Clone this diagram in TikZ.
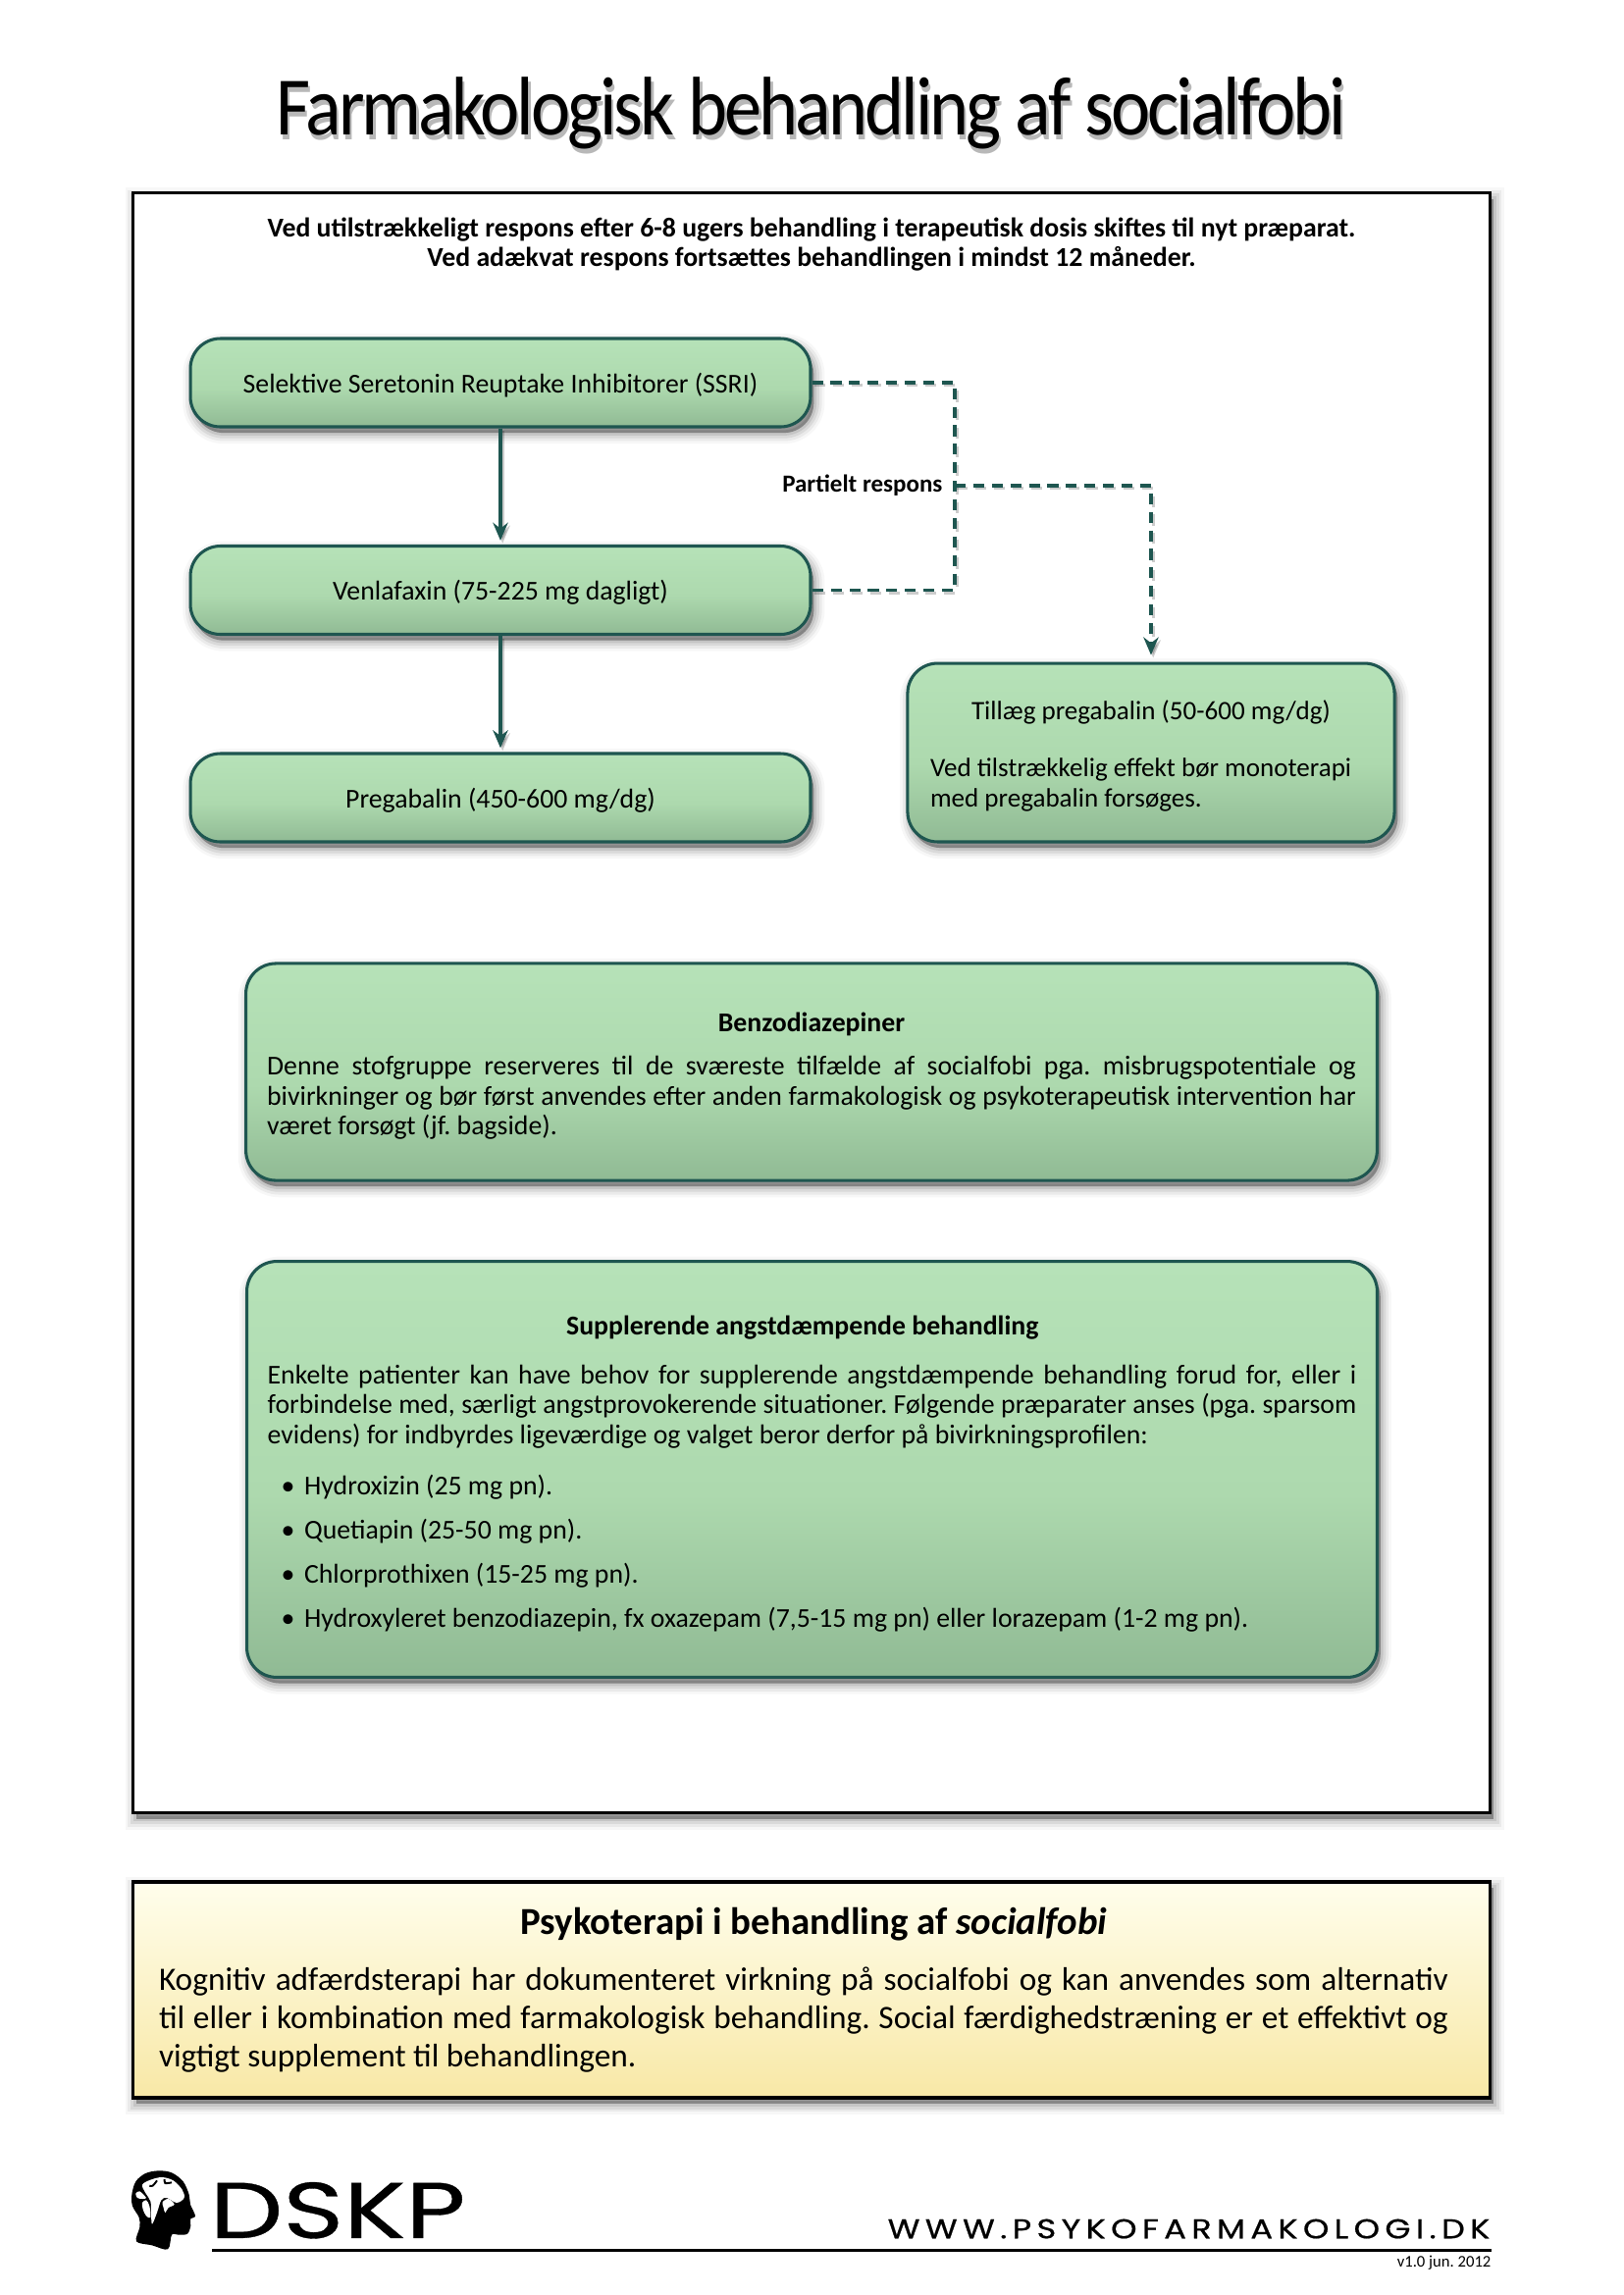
\documentclass[tikz,border=0pt]{standalone}
\usepackage{fontspec}
\usepackage{xcolor}
\usetikzlibrary{arrows.meta}
\usetikzlibrary{shadows}
\setmainfont{Carlito}
\newfontfamily\titlefont[FakeStretch=.9,LetterSpace=-3.5]{Carlito}
\newfontfamily\logofont[FakeBold=0.4]{Poppins}
\newfontfamily\urlfont[LetterSpace=16,FakeBold=0.6]{Poppins}
\setlength{\parindent}{0pt}
\frenchspacing
\definecolor{edgegreen}{HTML}{1E5650}
\definecolor{greentop}{HTML}{B6E2B8}
\definecolor{greenmid}{HTML}{ADD9AE}
\definecolor{greenbot}{HTML}{90BA94}
\definecolor{yellowtop}{HTML}{FFFEEC}
\definecolor{yellowbot}{HTML}{F8E8A6}
\pgfdeclareverticalshading{greenfade}{100bp}{color(0bp)=(greenbot); color(25bp)=(greenbot); color(47bp)=(greenmid); color(75bp)=(greentop); color(100bp)=(greentop)}
\newcommand{\titletext}{Farmakologisk behandling af socialfobi}
\newcommand{\boxfont}{\fontsize{10}{11}\selectfont}
\newcommand{\addonfont}{\fontsize{9.75}{10.9}\selectfont}
\newcommand{\psykofont}{\fontsize{12}{14}\selectfont}
\newcommand{\psykohead}{\bfseries\fontsize{14}{14}\selectfont}
\newcommand{\textblock}[2]{\vbox{\hsize=#1\relax #2}}
\newcommand{\fitline}[1]{\hbox to \hsize{#1}}
\newcommand{\restline}[1]{\hbox to \hsize{#1\hfil}}
\newcommand{\midline}[1]{\hbox to \hsize{\hfil#1\hfil}}
\newcommand{\dotline}[1]{\hbox to \hsize{\hspace*{5pt}\textbullet\hspace{3.5pt}#1\hfil}}
\tikzset{
    softshadow/.style={
        general shadow={shadow xshift=1.2pt,shadow yshift=-2.2pt,fill=black,draw=black,line width=8pt,opacity=.03},
        general shadow={shadow xshift=1.2pt,shadow yshift=-2.2pt,fill=black,draw=black,line width=6pt,opacity=.05},
        general shadow={shadow xshift=1.2pt,shadow yshift=-2.2pt,fill=black,draw=black,line width=4pt,opacity=.07},
        general shadow={shadow xshift=1.2pt,shadow yshift=-2.2pt,fill=black,draw=black,line width=2pt,opacity=.09},
        general shadow={shadow xshift=1.2pt,shadow yshift=-2.2pt,fill=black,opacity=.12}},
    greenbox/.style={draw=edgegreen,line width=1.1pt,rounded corners=11pt,shading=greenfade,softshadow,inner sep=0pt,font=\boxfont},
    drugbox/.style={greenbox,minimum width=227.5pt,minimum height=32.4pt,text height=9.6pt,text depth=2.4pt},
    arrowline/.style={draw=edgegreen,line width=1.15pt,-{Stealth[length=6.5pt,width=5.5pt]},shorten >=1.5pt},
    dashline/.style={draw=edgegreen,line width=1.15pt,dash pattern=on 4pt off 2.8pt},
    lineshadow/.style={general shadow={shadow xshift=.8pt,shadow yshift=-1pt,draw=black,fill=none,line width=1pt,dash pattern=on 4pt off 2.8pt,opacity=.2}},
    solidshadow/.style={general shadow={shadow xshift=.8pt,shadow yshift=-1pt,draw=black,fill=none,line width=1pt,opacity=.2}}
}

\begin{document}
\begin{tikzpicture}[x=.36pt,y=-.36pt]
            \useasboundingbox (0,0) rectangle (1654,2339);

            \node (title) at (827,118) {\titlefont\fontsize{30.5}{36}\selectfont\rlap{\raisebox{-1.8pt}{\hspace{.8pt}\textcolor{black!28}{\titletext}}}\titletext};

            \node[draw=black,line width=1.1pt,fill=white,softshadow,minimum width=498pt,minimum height=594.4pt] (frame) at (827,1022) {};
            \node[align=center,font=\fontsize{10}{10.8}\selectfont\bfseries] (intro) at (827,249) {Ved utilstrækkeligt respons efter 6-8 ugers behandling i terapeutisk dosis skiftes til nyt præparat.\\Ved adækvat respons fortsættes behandlingen i mindst 12 måneder.};

            \node[drugbox] (ssri) at (510,390) {Selektive Seretonin Reuptake Inhibitorer (SSRI)};
            \node[drugbox] (venla) at (510,601.5) {Venlafaxin (75-225 mg dagligt)};
            \node[drugbox] (prega) at (510,813) {Pregabalin (450-600 mg/dg)};

            \node[greenbox,minimum width=178.6pt,minimum height=65.5pt,font=\addonfont] (tillaeg) at (1173,767) {\textblock{162pt}{\vspace*{2.5pt}\midline{Tillæg pregabalin (50-600 mg/dg)}\vspace{10pt}\restline{Ved tilstrækkelig effekt bør monoterapi}\restline{med pregabalin forsøges.}}};

            \node[greenbox,minimum width=415pt,minimum height=79.6pt] (benzo) at (827,1092.5) {\textblock{399.5pt}{\vspace*{2.9pt}\midline{\bfseries Benzodiazepiner}\vspace{5pt}\fitline{Denne stofgruppe reserveres til de sværeste tilfælde af socialfobi pga. misbrugspotentiale og}\fitline{bivirkninger og bør først anvendes efter anden farmakologisk og psykoterapeutisk intervention har}\restline{været forsøgt (jf. bagside).}}};

            \node[greenbox,minimum width=414.7pt,minimum height=152.6pt] (suppl) at (827.5,1497.5) {\textblock{399.5pt}{\vspace*{3.5pt}\midline{\bfseries Supplerende angstdæmpende behandling\hspace*{7pt}}\vspace{6.7pt}\fitline{Enkelte patienter kan have behov for supplerende angstdæmpende behandling forud for, eller i}\fitline{forbindelse med, særligt angstprovokerende situationer. Følgende præparater anses (pga. sparsom}\restline{evidens) for indbyrdes ligeværdige og valget beror derfor på bivirkningsprofilen:}\vspace{7.8pt}\dotline{Hydroxizin (25 mg pn).}\vspace{5.2pt}\dotline{Quetiapin (25-50 mg pn).}\vspace{5.2pt}\dotline{Chlorprothixen (15-25 mg pn).}\vspace{5.2pt}\dotline{Hydroxyleret benzodiazepin, fx oxazepam (7,5-15 mg pn) eller lorazepam (1-2 mg pn).}}};

            \node[draw=black,line width=1.1pt,top color=yellowtop,bottom color=yellowbot,softshadow,minimum width=498pt,minimum height=79.2pt,inner sep=0pt,font=\psykofont] (psyko) at (827,2028) {\textblock{473pt}{\midline{\hspace*{7.5pt}\psykohead Psykoterapi i behandling af \textit{socialfobi}}\vspace{6.4pt}\fitline{Kognitiv adfærdsterapi har dokumenteret virkning på socialfobi og kan anvendes som alternativ}\fitline{til eller i kombination med farmakologisk behandling. Social færdighedstræning er et effektivt og}\restline{vigtigt supplement til behandlingen.}}\hspace*{5.8pt}};

            \coordinate (bend) at (973,495);
            \draw[arrowline,solidshadow] (ssri) -- (venla);
            \draw[arrowline,solidshadow] (venla) -- (prega);
            \draw[dashline,lineshadow] (ssri.east) -| (bend) |- (venla.east);
            \draw[dashline,lineshadow,-{Stealth[length=6.5pt,width=5.5pt]},shorten >=2.5pt] (bend) -| (tillaeg.north);
            \node[anchor=east,inner sep=0pt,font=\fontsize{9}{10}\selectfont\bfseries] (partiel) at (961,495) {Partielt respons};

            \begin{scope}[shift={(125,2205)},scale=.3333]
                \fill[black] plot[smooth cycle,tension=.55] coordinates {(28,95) (40,55) (70,30) (110,22) (150,28) (185,55) (203,95) (207,125) (222,160) (207,170) (208,190) (198,215) (170,218) (150,218) (138,262) (90,250) (42,238) (52,195) (50,165) (30,130)};
                \fill[white] plot[smooth cycle,tension=.55] coordinates {(60,65) (85,50) (120,42) (155,52) (182,80) (188,105) (165,120) (135,105) (118,112) (105,150) (90,185) (87,150) (85,115) (70,90)};
                \fill[white] plot[smooth cycle,tension=.55] coordinates {(40,92) (52,85) (72,105) (60,108) (45,105)};
                \fill[white] plot[smooth cycle,tension=.55] coordinates {(60,120) (72,112) (82,130) (85,165) (72,160) (62,140)};
                \fill[white] plot[smooth cycle,tension=.55] coordinates {(122,118) (140,108) (158,125) (140,135) (130,150) (125,135)};
                \draw[black,line width=.7pt] plot[smooth] coordinates {(82,68) (92,68) (105,52)};
                \draw[black,line width=.7pt] plot[smooth] coordinates {(128,48) (130,60) (150,58)};
            \end{scope}

            \node[anchor=south west,inner sep=0pt,xscale=1.31,transform shape,font=\logofont\fontsize{29}{30}\selectfont] (dskp) at (213,2282) {DSKP};
            \node[anchor=south east,inner sep=0pt,xscale=1.21,transform shape,font=\urlfont\fontsize{10}{12}\selectfont] (url) at (1519,2282) {WWW.PSYKOFARMAKOLOGI.DK};
            \coordinate (ruleleft) at (216,2293);
            \coordinate (ruleright) at (1520,2293);
            \draw[line width=1.1pt] (ruleleft) -- (ruleright);
            \node[anchor=east,inner sep=0pt,font=\fontsize{6}{6}\selectfont] (version) at (1520,2306) {v1.0 jun. 2012};
\end{tikzpicture}
\end{document}
